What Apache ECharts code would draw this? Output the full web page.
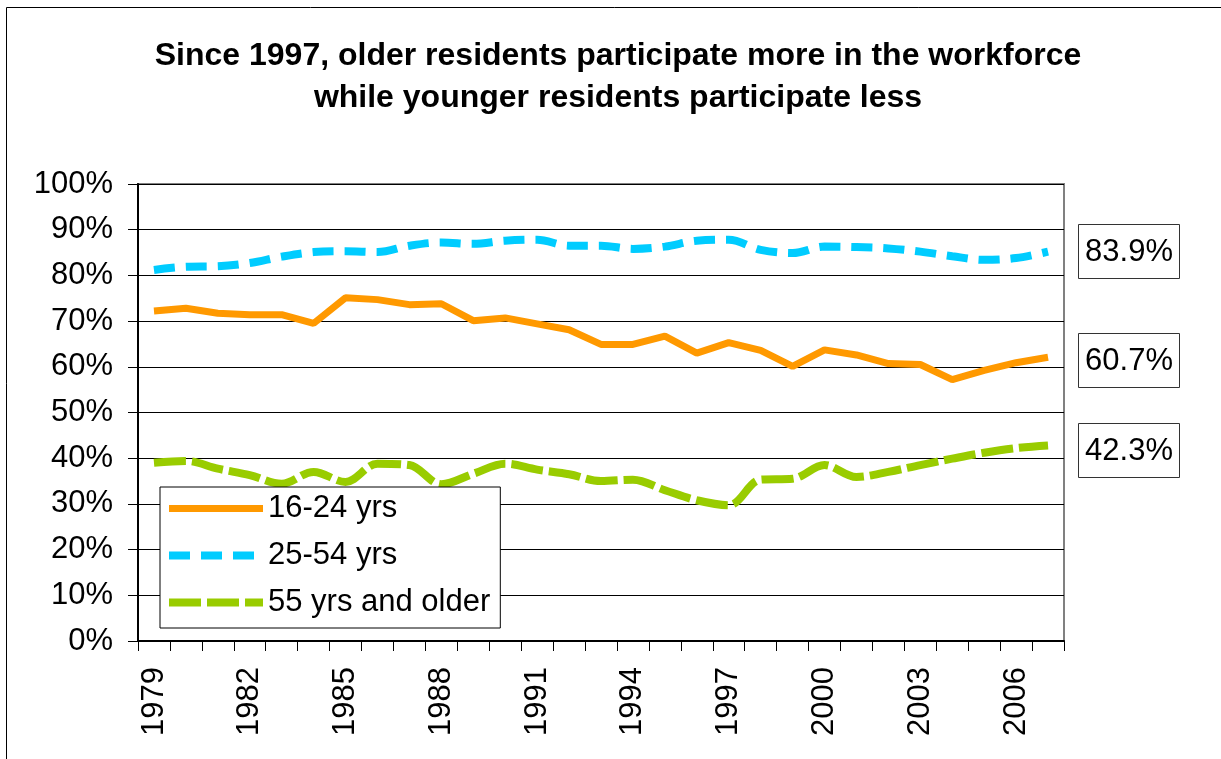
<!DOCTYPE html>
<html lang="en">
<head>
    <meta charset="utf-8">
    <title>Labor force participation by age</title>
    <style>
        html, body { margin: 0; padding: 0; background: #fff; }
    </style>
</head>
<body>
    <div id="main" style="width:1221px;height:759px;"></div>
    <script src="https://cdn.jsdelivr.net/npm/echarts@6/dist/echarts.min.js"></script>
    <script type="text/javascript">
        var myChart = echarts.init(document.getElementById('main'));

        // data
        var years = ['1979','1980','1981','1982','1983','1984','1985','1986','1987','1988',
                     '1989','1990','1991','1992','1993','1994','1995','1996','1997','1998',
                     '1999','2000','2001','2002','2003','2004','2005','2006','2007'];
        var young = [72.2,72.8,71.7,71.4,71.4,69.5,75.1,74.7,73.6,73.8,
                     70.1,70.7,69.4,68.1,64.9,64.9,66.7,63.0,65.3,63.6,
                     60.1,63.7,62.6,60.7,60.5,57.2,59.2,60.9,62.1];
        var prime = [81.2,81.9,82.0,82.7,84.1,85.1,85.3,85.1,86.5,87.2,
                     86.9,87.6,87.8,86.5,86.5,85.8,86.3,87.6,87.8,85.6,
                     84.9,86.3,86.2,85.9,85.2,84.2,83.4,83.8,85.2];
        var older = [39.0,39.4,37.7,36.3,34.4,37.0,34.8,38.8,38.5,34.3,
                     36.6,38.8,37.5,36.5,35.0,35.3,33.0,30.8,29.7,35.3,
                     35.5,38.5,35.9,37.0,38.5,39.9,41.2,42.2,42.8];
        var seriesNames = ['16-24 yrs', '25-54 yrs', '55 yrs and older'];
        var noteLabels = ['83.9%', '60.7%', '42.3%'];

        var font = 'Liberation Sans, Arial, sans-serif';

        // annotation boxes on the right
        var noteY = [224, 333, 423];
        var notes = [];
        noteLabels.forEach(function (t, i) {
            notes.push({
                type: 'rect',
                shape: { x: 1078.5, y: noteY[i] + 0.5, width: 101, height: 54 },
                style: { fill: '#fff', stroke: '#333', lineWidth: 1 }
            });
            notes.push({
                type: 'text',
                style: {
                    x: 1129, y: noteY[i] + 28,
                    text: t,
                    font: '31px ' + font,
                    fill: '#000',
                    align: 'center',
                    verticalAlign: 'middle'
                }
            });
        });

        var option = {
            backgroundColor: '#fff',
            animation: false,
            title: {
                text: 'Since 1997, older residents participate more in the workforce\nwhile younger residents participate less',
                left: 613,
                top: 30,
                textAlign: 'center',
                textStyle: {
                    color: '#000',
                    fontFamily: font,
                    fontSize: 32,
                    fontWeight: 'bold',
                    lineHeight: 42
                }
            },
            graphic: [{
                type: 'rect',
                shape: { x: 6.5, y: 7.5, width: 1240, height: 800 },
                style: { fill: 'none', stroke: '#000', lineWidth: 1 },
                z: 0
            }].concat(notes),
            legend: {
                orient: 'vertical',
                left: 160,
                top: 487,
                itemWidth: 94,
                itemHeight: 30,
                itemGap: 16,
                padding: [6, 10, 10, 5],
                backgroundColor: '#fff',
                borderColor: '#000',
                borderWidth: 1,
                itemStyle: { opacity: 0 },
                lineStyle: { width: 'inherit' },
                textStyle: {
                    color: '#000',
                    fontFamily: font,
                    fontSize: 31
                },
                data: seriesNames
            },
            grid: {
                show: true,
                left: 138,
                right: 157,
                top: 184,
                bottom: 118,
                borderColor: '#808080',
                borderWidth: 2,
                containLabel: false
            },
            xAxis: {
                type: 'category',
                data: years,
                boundaryGap: true,
                axisLine: { lineStyle: { color: '#000', width: 2 } },
                axisTick: { show: true, interval: 0, length: 10, lineStyle: { color: '#000' } },
                axisLabel: {
                    interval: 2,
                    rotate: 90,
                    margin: 26,
                    color: '#000',
                    fontFamily: font,
                    fontSize: 31
                },
                splitLine: { show: false }
            },
            yAxis: {
                type: 'value',
                min: 0,
                max: 100,
                interval: 10,
                axisLine: { show: true, lineStyle: { color: '#000', width: 2 } },
                axisTick: { show: true, length: 10, lineStyle: { color: '#000' } },
                axisLabel: {
                    formatter: '{value}%',
                    margin: 25,
                    color: '#000',
                    fontFamily: font,
                    fontSize: 31
                },
                splitLine: { show: true, lineStyle: { color: '#000', width: 1 } }
            },
            series: [{
                name: seriesNames[0],
                type: 'line',
                data: young,
                symbol: 'none',
                itemStyle: { color: '#FF9900' },
                lineStyle: { color: '#FF9900', width: 7 }
            }, {
                name: seriesNames[1],
                type: 'line',
                data: prime,
                symbol: 'none',
                smooth: 0.35,
                itemStyle: { color: '#00CCFF' },
                lineStyle: { color: '#00CCFF', width: 8, type: [21, 11] }
            }, {
                name: seriesNames[2],
                type: 'line',
                data: older,
                symbol: 'none',
                smooth: 0.35,
                itemStyle: { color: '#99CC00' },
                lineStyle: { color: '#99CC00', width: 8, type: [32, 6] }
            }]
        };
        myChart.setOption(option);
    </script>
</body>
</html>
